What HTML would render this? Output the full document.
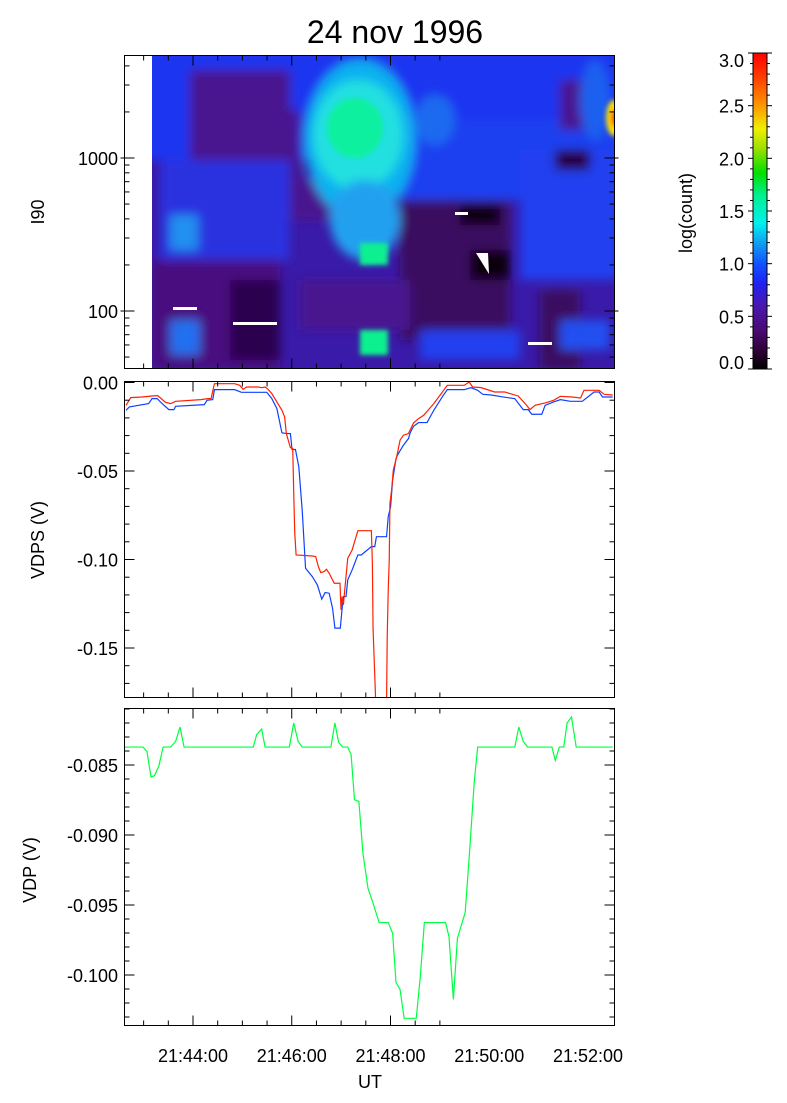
<!DOCTYPE html>
<html><head><meta charset="utf-8"><style>
html,body{margin:0;padding:0;background:#fff;}
svg{display:block;font-family:"Liberation Sans",sans-serif;}
</style></head><body>
<svg id="s" width="787" height="1103" viewBox="0 0 787 1103" xmlns="http://www.w3.org/2000/svg">
<defs>
<filter id="bl" x="-10%" y="-10%" width="120%" height="120%"><feGaussianBlur stdDeviation="5"/></filter>
<filter id="bl2"><feGaussianBlur stdDeviation="2.5"/></filter>
<clipPath id="c1"><rect x="152" y="56" width="462" height="313"/></clipPath>
<clipPath id="c2"><rect x="124" y="382" width="490" height="316"/></clipPath>
<clipPath id="c3"><rect x="124" y="709" width="490" height="317"/></clipPath>
<linearGradient id="cb" x1="0" y1="1" x2="0" y2="0">
<stop offset="0" stop-color="#000000"/>
<stop offset="0.05" stop-color="#2a0030"/>
<stop offset="0.12" stop-color="#4a0a70"/>
<stop offset="0.2" stop-color="#4a18b0"/>
<stop offset="0.27" stop-color="#2020f0"/>
<stop offset="0.33" stop-color="#1050ff"/>
<stop offset="0.4" stop-color="#10a0f0"/>
<stop offset="0.46" stop-color="#00f0f0"/>
<stop offset="0.55" stop-color="#00f090"/>
<stop offset="0.62" stop-color="#00e000"/>
<stop offset="0.7" stop-color="#a0e000"/>
<stop offset="0.76" stop-color="#f0f000"/>
<stop offset="0.84" stop-color="#ff9000"/>
<stop offset="0.92" stop-color="#ff4000"/>
<stop offset="1" stop-color="#ff0000"/>
</linearGradient>
</defs>
<text x="395" y="43" font-size="32" text-anchor="middle">24 nov 1996</text>

<g clip-path="url(#c1)">
<rect x="152" y="56" width="462" height="313" fill="#3a1aa8"/>
<g filter="url(#bl)">
<rect x="140" y="50" width="490" height="110" fill="#1a34f0"/>
<rect x="400" y="120" width="220" height="80" fill="#1a40f0"/>
<rect x="520" y="150" width="100" height="130" fill="#2040f0"/>
<rect x="190" y="70" width="100" height="100" fill="#4a1890"/>
<rect x="240" y="110" width="60" height="70" fill="#4a1590"/>
<rect x="290" y="180" width="60" height="40" fill="#4a1590"/>
<rect x="560" y="80" width="40" height="50" fill="#4a1890"/>
<rect x="555" y="150" width="35" height="20" fill="#2a0040"/>
<rect x="160" y="160" width="130" height="100" fill="#2a30e0"/>
<rect x="170" y="215" width="28" height="35" fill="#2090f0"/>
<rect x="150" y="260" width="130" height="110" fill="#4a1080"/>
<rect x="230" y="280" width="50" height="80" fill="#2a0050"/>
<rect x="170" y="320" width="30" height="35" fill="#2070f0"/>
<rect x="400" y="200" width="110" height="140" fill="#3a0c60"/>
<rect x="460" y="205" width="40" height="20" fill="#100010"/>
<rect x="470" y="250" width="40" height="30" fill="#100010"/>
<rect x="300" y="280" width="110" height="50" fill="#4a1590"/>
<rect x="540" y="290" width="40" height="80" fill="#3a0c60"/>
<rect x="420" y="330" width="100" height="30" fill="#2040f0"/>
<rect x="560" y="320" width="50" height="30" fill="#2050f0"/>
<ellipse cx="360" cy="140" rx="55" ry="80" fill="#10b0f0"/>
<ellipse cx="358" cy="135" rx="45" ry="55" fill="#20e0e0"/>
<ellipse cx="365" cy="220" rx="35" ry="40" fill="#20a0f0"/>
<ellipse cx="435" cy="120" rx="20" ry="25" fill="#1a6af0"/>
<ellipse cx="595" cy="100" rx="15" ry="40" fill="#1a60f0"/>
</g>
<g filter="url(#bl2)">
<ellipse cx="355" cy="128" rx="28" ry="30" fill="#10f0a0"/>
<rect x="360" y="243" width="28" height="22" fill="#10f090"/>
<rect x="360" y="330" width="28" height="25" fill="#10f090"/>
<ellipse cx="614" cy="118" rx="8" ry="18" fill="#ffe000"/>
<ellipse cx="615" cy="118" rx="4" ry="9" fill="#ff2000"/>
</g>
<rect x="173" y="307" width="24" height="3" fill="#fff"/>
<rect x="233" y="322" width="44" height="3" fill="#fff"/>
<rect x="455" y="212" width="13" height="3" fill="#fff"/>
<rect x="528" y="342" width="24" height="3" fill="#fff"/>
<rect x="244" y="368" width="32" height="2" fill="#fff"/>
<polygon points="476,253 488,253 489,274" fill="#fff"/>
</g>

<rect x="753" y="53" width="14" height="316" fill="url(#cb)"/>
<rect x="753" y="53" width="14" height="316" fill="none" stroke="#000" stroke-width="1"/>
<text x="0" y="0" font-size="18" text-anchor="middle" transform="translate(692,213) rotate(-90)">log(count)</text>

<g id="lines">
<g clip-path="url(#c2)">
<g transform="translate(124,382) scale(0.33747,0.33263) translate(-72,-35)" fill="none">
<polyline stroke="#1040ff" stroke-width="1.2" vector-effect="non-scaling-stroke" points="78,120 88,110 145,100 155,85 170,85 185,100 205,118 220,118 225,108 310,103 318,90 335,88 340,58 400,58 420,66 495,66 510,85 525,115 540,188 555,190 565,190 570,238 580,238 590,290 600,420 610,595 630,620 645,645 658,688 668,668 680,670 690,715 697,775 713,775 718,720 722,680 730,680 735,630 748,600 765,555 775,555 805,530 815,530 820,500 850,500 855,440 862,410 868,330 878,265 885,250 900,225 915,205 920,188 930,168 945,157 970,157 990,120 1015,80 1030,58 1080,58 1100,52 1120,60 1135,72 1160,74 1195,80 1230,85 1255,118 1270,118 1280,132 1310,132 1320,105 1345,95 1365,88 1395,93 1430,93 1465,65 1480,65 1490,80 1520,80"/>
<polyline stroke="#ff2000" stroke-width="1.2" vector-effect="non-scaling-stroke" points="78,105 92,82 125,80 155,77 172,76 195,96 210,100 225,93 300,88 320,85 330,85 340,40 400,40 415,45 425,57 435,50 470,50 480,52 490,50 497,55 510,70 525,95 540,120 548,140 553,190 565,232 572,235 575,370 578,490 582,555 630,558 640,560 648,590 655,608 665,605 672,598 680,610 695,640 712,640 715,720 718,680 722,705 728,640 735,565 748,540 765,482 805,482 808,580 810,775 818,1000 850,1000 852,800 855,660 858,570 860,400 865,360 870,300 880,260 890,210 900,195 915,190 930,158 945,145 960,135 990,100 1030,45 1080,45 1095,35 1105,50 1130,52 1170,65 1200,65 1240,77 1265,105 1275,118 1290,105 1320,98 1345,90 1365,78 1400,80 1425,83 1435,60 1480,60 1495,72 1520,74"/>
</g></g>
<g clip-path="url(#c3)">
<g transform="translate(124,709) scale(0.33747,0.33368) translate(-72,-28)" fill="none">
<polyline stroke="#00ff40" stroke-width="1.2" vector-effect="non-scaling-stroke" points="72,142 128,142 140,155 152,232 162,228 175,200 188,142 210,142 225,125 238,82 250,142 455,142 465,105 480,88 490,142 562,142 575,70 588,125 600,142 685,142 697,70 708,128 720,142 735,142 745,165 755,300 768,305 780,460 795,565 810,610 828,668 855,668 868,700 878,848 890,868 902,955 938,955 950,830 962,668 1025,668 1035,710 1048,898 1060,715 1083,638 1095,470 1110,245 1120,142 1230,142 1242,82 1255,125 1268,142 1340,142 1350,182 1362,142 1375,142 1385,70 1398,52 1412,142 1520,142"/>
</g></g>
</g>
<g id="ax" stroke="#000" stroke-width="1" fill="none"></g>
<g id="tx" font-size="18" fill="#000"></g>
</svg>
<script>
(function(){
var NS="http://www.w3.org/2000/svg",ax=document.getElementById('ax'),tx=document.getElementById('tx');
function L(x1,y1,x2,y2){var e=document.createElementNS(NS,'line');e.setAttribute('x1',x1);e.setAttribute('y1',y1);e.setAttribute('x2',x2);e.setAttribute('y2',y2);ax.appendChild(e);}
function T(x,y,s,a,rot){var e=document.createElementNS(NS,'text');e.setAttribute('x',x);e.setAttribute('y',y);e.setAttribute('text-anchor',a||'middle');if(rot)e.setAttribute('transform','rotate(-90 '+x+' '+y+')');e.textContent=s;tx.appendChild(e);}
var X0=124.5,X1=614.5;
var panels=[[55.5,368.5],[381.5,697.5],[708.5,1025.5]];
panels.forEach(function(p){
  var r=document.createElementNS(NS,'rect');r.setAttribute('x',X0);r.setAttribute('y',p[0]);r.setAttribute('width',X1-X0);r.setAttribute('height',p[1]-p[0]);ax.appendChild(r);
  for(var t=-90;t<=300;t+=30){var x=193+t*98.75/120;if(x<X0+1||x>X1-1)continue;var big=(t%120==0);var l=big?10:5;L(x,p[0],x,p[0]+l);L(x,p[1],x,p[1]-l);}
});
var Y1000=158,DEC=153;
function ly(v){return Y1000-(Math.log10(v)-3)*DEC;}
[40,50,60,70,80,90,100,200,300,400,500,600,700,800,900,1000,2000,3000,4000].forEach(function(v){var y=ly(v);if(y<56||y>368)return;var big=(v==100||v==1000);var l=big?10:5;L(X0-(big?4:0),y,X0+l,y);L(X1+(big?4:0),y,X1-l,y);});
T(118,ly(1000)+7,'1000','end');T(118,ly(100)+7,'100','end');
T(44,212,'I90','middle',true);
for(var i=0;i<=18;i++){var y=382.5+i*17.7;if(y>697)break;var big=(i%5==0);var l=big?10:5;L(X0,y,X0+l,y);L(X1,y,X1-l,y);}
[['0.00',382.5],['-0.05',471],['-0.10',559.5],['-0.15',648]].forEach(function(a){T(118,a[1]+7,a[0],'end');});
T(44,540,'VDPS (V)','middle',true);
for(var i=-5;i<=19;i++){var y=765+i*14;if(y<709||y>1025)continue;var big=(i%5==0);var l=big?10:5;L(X0,y,X0+l,y);L(X1,y,X1-l,y);}
[['-0.085',765],['-0.090',835],['-0.095',905],['-0.100',975]].forEach(function(a){T(118,a[1]+7,a[0],'end');});
T(36,870,'VDP (V)','middle',true);
['21:44:00','21:46:00','21:48:00','21:50:00','21:52:00'].forEach(function(s,i){T(193+i*98.75,1062,s);});
T(370,1088,'UT');
for(var i=0;i<=30;i++){var y=369-i*316/30;var big=(i%5==0);var l=big?5:3;L(753,y,753-l,y);L(767,y,767+l,y);}
['0.0','0.5','1.0','1.5','2.0','2.5','3.0'].forEach(function(s,i){var y=369-i*316/6;if(i==0)y=362;if(i==6)y=60;T(744,y+7,s,'end');});
})();
</script>
</body></html>
